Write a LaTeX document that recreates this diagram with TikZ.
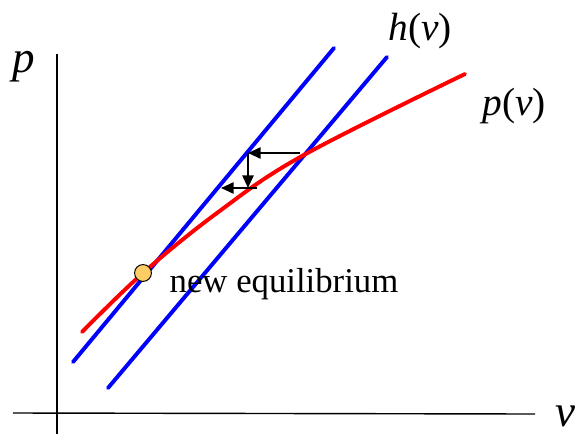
\documentclass[tikz,border=0pt]{standalone}
\usepackage{fontspec}
\setmainfont{Liberation Serif}
\usetikzlibrary{arrows.meta, positioning}
\definecolor{eqfill}{RGB}{255,204,102}

\begin{document}
\begin{tikzpicture}[x=0.025cm, y=-0.025cm, line width=1pt,
    curve/.style={line width=2.8pt, line cap=round},
    movearrow/.style={line width=1.4pt, -{Triangle[length=9pt, width=8pt]}},
    lbl/.style={inner sep=0pt, anchor=base west, font=\fontsize{28}{32}\selectfont},
    axlbl/.style={lbl, font=\fontsize{32}{36}\selectfont}]
  \useasboundingbox (0,0) rectangle (583,434);
  % axes
  \draw (13,413) -- (535,414);
  \draw (57,54) -- (57,434);
  \node[axlbl] (plabel) at (12,72) {\textit{p}};
  \node[axlbl] (vlabel) at (555,426) {\textit{v}};
  % h(v), old and new
  \draw[curve, blue] (73,362) -- (334,48);
  \draw[curve, blue] (108,388) -- (387,57);
  \node[lbl] (hlabel) at (388,40) {\textit{h}(\textit{v})};
  % p(v)
  \draw[curve, red] plot[smooth, tension=0.6] coordinates {(82,332) (143,273) (217,213) (302,156) (465,74)};
  \node[lbl] (pvlabel) at (482,115) {\textit{p}(\textit{v})};
  % adjustment steps
  \coordinate (s1) at (300,153);
  \coordinate (s2) at (248,153);
  \coordinate (s3) at (248,188);
  \coordinate (s4) at (257,188);
  \coordinate (s5) at (221,188);
  \draw[movearrow] (s1) -- (s2);
  \draw[movearrow] (s2) -- (s3);
  \draw[movearrow] (s4) -- (s5);
  % equilibrium
  \node[circle, draw, line width=0.7pt, fill=eqfill, minimum size=12pt, inner sep=0pt] (eq) at (143,273) {};
  \node[lbl, font=\fontsize{24.7}{30}\selectfont] (eqlabel) at (169,292) {new equilibrium};
\end{tikzpicture}
\end{document}
